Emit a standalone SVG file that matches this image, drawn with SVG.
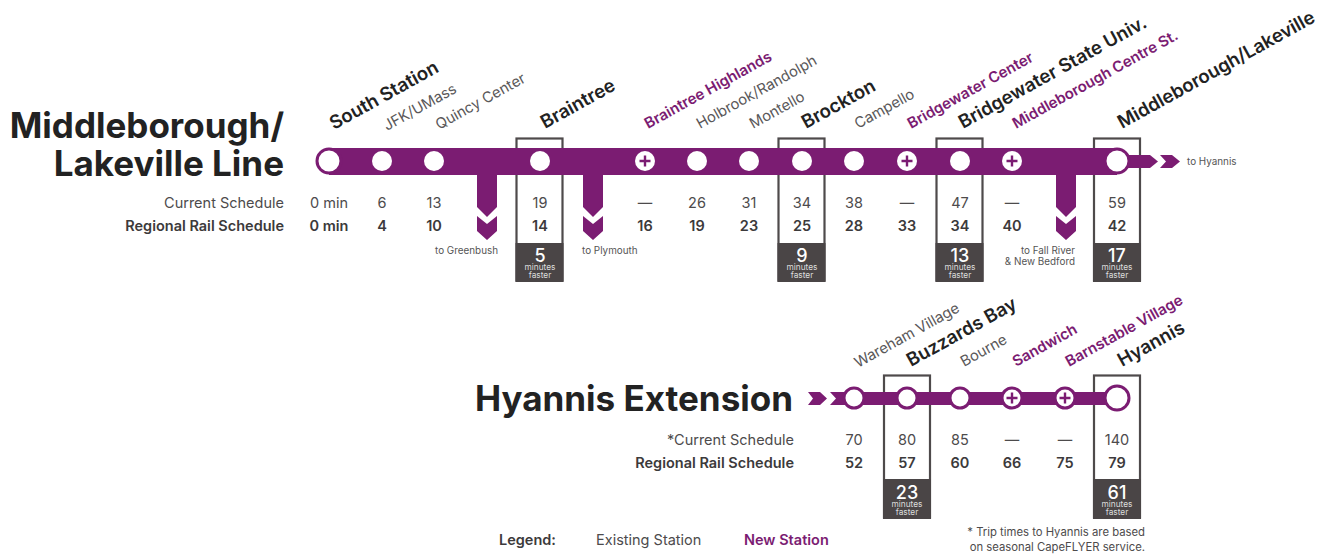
<svg xmlns="http://www.w3.org/2000/svg" width="1318" height="555" viewBox="0 0 1318 555">
<style>
text{font-family:Inter,"Liberation Sans",sans-serif;fill:#4d4b4c;font-size:14.5px}
.c{text-anchor:middle}.e{text-anchor:end}
.b{font-weight:600;fill:#3c3a3b}
.title{font-size:35px;font-weight:700;fill:#222;text-anchor:end}
.major{font-size:18.600px;font-weight:600;fill:#222}
.minor{font-size:14.8px;fill:#5a5859}
.new{font-size:15px;font-weight:600;fill:#7b1c72}
.small{font-size:9.900px;fill:#555}
.num{font-size:18px;font-weight:500;fill:#fff;text-anchor:middle}
.mf{font-size:8.300px;fill:#ddd;text-anchor:middle}
.foot{font-size:11.300px}
.box{fill:none;stroke:#4e4a4b;stroke-width:2.2}
.dark{fill:#4a4546}
.line{fill:#7b1c72}
.st{fill:#fff}
.ring{fill:#fff;stroke:#7b1c72;stroke-width:3}
.plus{stroke:#7b1c72;stroke-width:2.4;fill:none}
</style>
<defs>
<g id="plus"><path class="plus" d="M-5.500 0H5.500M0-5.500V5.500"/></g>
<g id="minfast"><text class="mf" y="0">minutes</text><text class="mf" y="8">faster</text></g>
</defs>

<g id="titles">
<text class="title" x="284" y="138">Middleborough/</text>
<text class="title" x="284" y="176">Lakeville Line</text>
<text class="title" x="793" y="411">Hyannis Extension</text>
</g>

<g id="boxes">
<rect class="box" x="516.500" y="138.500" width="46" height="142"/><rect class="dark" x="515.500" y="243" width="48" height="39"/>
<rect class="box" x="778.500" y="138.500" width="46" height="142"/><rect class="dark" x="777.500" y="243" width="48" height="39"/>
<rect class="box" x="936.500" y="138.500" width="46" height="142"/><rect class="dark" x="935.500" y="243" width="48" height="39"/>
<rect class="box" x="1094" y="138.500" width="46" height="142"/><rect class="dark" x="1093" y="243" width="48" height="39"/>
<rect class="box" x="884" y="375.500" width="46" height="142"/><rect class="dark" x="883" y="479" width="48" height="40"/>
<rect class="box" x="1094" y="375.500" width="46" height="142"/><rect class="dark" x="1093" y="479" width="48" height="40"/>
</g>

<g id="connectors">
<rect class="line" x="329" y="148" width="788" height="27"/>
<path class="line" d="M477 175H497V207L487 217L477 207Z"/>
<path class="line" d="M477 216L487 224L497 216V231L487 240L477 231Z"/>
<path class="line" d="M583 175H603V207L593 217L583 207Z"/>
<path class="line" d="M583 216L593 224L603 216V231L593 240L583 231Z"/>
<path class="line" d="M1056 175H1076V207L1066 217L1056 207Z"/>
<path class="line" d="M1056 216L1066 224L1076 216V231L1066 240L1056 231Z"/>
<path class="line" d="M1117 155H1150L1158 161.500L1150 168H1117Z"/>
<path class="line" d="M1160 155H1172L1180 161.500L1172 168H1160L1166 161.500Z"/>
<rect class="line" x="836" y="392" width="281" height="13"/>
<path class="line" d="M808 392H820L827 398.500L820 405H808L813 398.500Z"/>
<path class="line" d="M830 392H845V405H830L836 398.500Z"/>
</g>

<g id="st-south-station"><circle class="ring" cx="329" cy="161" r="12"/><text class="major" transform="translate(334 130) rotate(-29)">South Station</text><text class="c" x="329" y="207.500">0 min</text><text class="c b" x="329" y="231">0 min</text></g>
<g id="st-jfk"><circle class="st" cx="382" cy="161" r="10"/><text class="minor" transform="translate(387 131) rotate(-29)">JFK/UMass</text><text class="c" x="382" y="207.500">6</text><text class="c b" x="382" y="231">4</text></g>
<g id="st-quincy"><circle class="st" cx="434" cy="161" r="10"/><text class="minor" transform="translate(439 130) rotate(-29)">Quincy Center</text><text class="c" x="434" y="207.500">13</text><text class="c b" x="434" y="231">10</text></g>
<g id="st-braintree"><circle class="st" cx="540" cy="161" r="10"/><text class="major" transform="translate(545 129) rotate(-29)">Braintree</text><text class="c" x="540" y="207.500">19</text><text class="c b" x="540" y="231">14</text><text class="num" x="540" y="262">5</text><use href="#minfast" x="540" y="270"/></g>
<g id="st-braintree-highlands"><circle class="st" cx="645" cy="161" r="10"/><use href="#plus" x="645" y="161"/><text class="new" transform="translate(648 129) rotate(-29)">Braintree Highlands</text><text class="c" x="645" y="207.500">—</text><text class="c b" x="645" y="231">16</text></g>
<g id="st-holbrook"><circle class="st" cx="697" cy="161" r="10"/><text class="minor" transform="translate(700 129) rotate(-29)">Holbrook/Randolph</text><text class="c" x="697" y="207.500">26</text><text class="c b" x="697" y="231">19</text></g>
<g id="st-montello"><circle class="st" cx="749" cy="161" r="10"/><text class="minor" transform="translate(753 129) rotate(-29)">Montello</text><text class="c" x="749" y="207.500">31</text><text class="c b" x="749" y="231">23</text></g>
<g id="st-brockton"><circle class="st" cx="802" cy="161" r="10"/><text class="major" transform="translate(806 129) rotate(-29)">Brockton</text><text class="c" x="802" y="207.500">34</text><text class="c b" x="802" y="231">25</text><text class="num" x="802" y="262">9</text><use href="#minfast" x="802" y="270"/></g>
<g id="st-campello"><circle class="st" cx="854" cy="161" r="10"/><text class="minor" transform="translate(858 129) rotate(-29)">Campello</text><text class="c" x="854" y="207.500">38</text><text class="c b" x="854" y="231">28</text></g>
<g id="st-bridgewater-center"><circle class="st" cx="907" cy="161" r="10"/><use href="#plus" x="907" y="161"/><text class="new" transform="translate(911 129) rotate(-29)">Bridgewater Center</text><text class="c" x="907" y="207.500">—</text><text class="c b" x="907" y="231">33</text></g>
<g id="st-bridgewater-state"><circle class="st" cx="960" cy="161" r="10"/><text class="major" transform="translate(963 129) rotate(-29)">Bridgewater State Univ.</text><text class="c" x="960" y="207.500">47</text><text class="c b" x="960" y="231">34</text><text class="num" x="960" y="262">13</text><use href="#minfast" x="960" y="270"/></g>
<g id="st-middleborough-centre"><circle class="st" cx="1012" cy="161" r="10"/><use href="#plus" x="1012" y="161"/><text class="new" transform="translate(1016 129) rotate(-29)">Middleborough Centre St.</text><text class="c" x="1012" y="207.500">—</text><text class="c b" x="1012" y="231">40</text></g>
<g id="st-middleborough-lakeville"><circle class="ring" cx="1117" cy="161" r="12"/><text class="major" transform="translate(1122 129) rotate(-29)">Middleborough/Lakeville</text><text class="c" x="1117" y="207.500">59</text><text class="c b" x="1117" y="231">42</text><text class="num" x="1117" y="262">17</text><use href="#minfast" x="1117" y="270"/></g>

<g id="row-labels">
<text class="e" x="284" y="207.500">Current Schedule</text>
<text class="e b" x="284" y="231">Regional Rail Schedule</text>
<text class="e" x="794" y="444.500">*Current Schedule</text>
<text class="e b" x="794" y="468">Regional Rail Schedule</text>
<text class="small" x="435" y="254">to Greenbush</text>
<text class="small" x="582" y="254">to Plymouth</text>
<text class="small e" x="1075" y="254">to Fall River</text>
<text class="small e" x="1075" y="265">&amp; New Bedford</text>
<text class="small" x="1187" y="165">to Hyannis</text>
</g>

<g id="st-wareham"><circle class="ring" cx="854" cy="398" r="10"/><text class="minor" transform="translate(858 368) rotate(-29)">Wareham Village</text><text class="c" x="854" y="444.500">70</text><text class="c b" x="854" y="468">52</text></g>
<g id="st-buzzards"><circle class="ring" cx="907" cy="398" r="10"/><text class="major" transform="translate(911 367) rotate(-29)">Buzzards Bay</text><text class="c" x="907" y="444.500">80</text><text class="c b" x="907" y="468">57</text><text class="num" x="907" y="499">23</text><use href="#minfast" x="907" y="507"/></g>
<g id="st-bourne"><circle class="ring" cx="960" cy="398" r="10"/><text class="minor" transform="translate(964 367) rotate(-29)">Bourne</text><text class="c" x="960" y="444.500">85</text><text class="c b" x="960" y="468">60</text></g>
<g id="st-sandwich"><circle class="ring" cx="1012" cy="398" r="10"/><use href="#plus" x="1012" y="398"/><text class="new" transform="translate(1016 367) rotate(-29)">Sandwich</text><text class="c" x="1012" y="444.500">—</text><text class="c b" x="1012" y="468">66</text></g>
<g id="st-barnstable"><circle class="ring" cx="1065" cy="398" r="10"/><use href="#plus" x="1065" y="398"/><text class="new" transform="translate(1069 367) rotate(-29)">Barnstable Village</text><text class="c" x="1065" y="444.500">—</text><text class="c b" x="1065" y="468">75</text></g>
<g id="st-hyannis"><circle class="ring" cx="1117" cy="398" r="12"/><text class="major" transform="translate(1122 367) rotate(-29)">Hyannis</text><text class="c" x="1117" y="444.500">140</text><text class="c b" x="1117" y="468">79</text><text class="num" x="1117" y="499">61</text><use href="#minfast" x="1117" y="507"/></g>

<g id="legend">
<text class="b" x="499" y="545">Legend:</text>
<text x="596" y="545">Existing Station</text>
<text class="b" x="744" y="545" style="fill:#7b1c72">New Station</text>
<text class="e foot" x="1145" y="536">* Trip times to Hyannis are based</text>
<text class="e foot" x="1145" y="551">on seasonal CapeFLYER service.</text>
</g>
</svg>
